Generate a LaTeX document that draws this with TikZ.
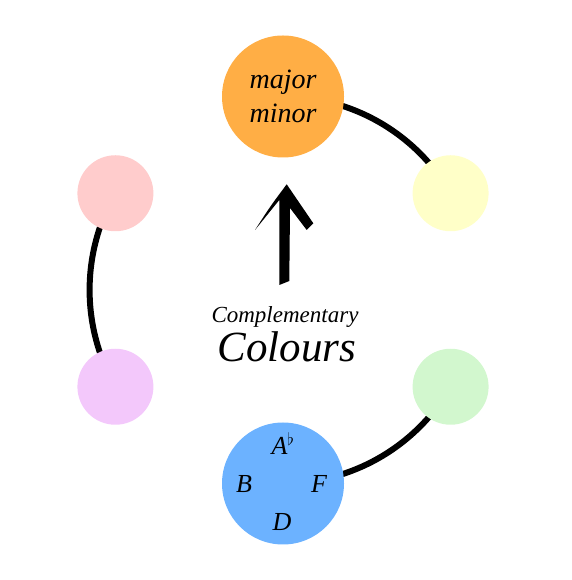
\documentclass[tikz,border=0pt]{standalone}
\usepackage{fontspec}
\setmainfont{Liberation Serif}
\usepackage{tikz}
\usetikzlibrary{backgrounds}
\definecolor{keyorange}{HTML}{FFAE45}
\definecolor{keyyellow}{HTML}{FFFFC8}
\definecolor{keygreen}{HTML}{D2F7CE}
\definecolor{keyblue}{HTML}{6CB2FF}
\definecolor{keypink}{HTML}{FFCCCC}
\definecolor{keyviolet}{HTML}{F3C8FB}

\begin{document}
\begin{tikzpicture}[x=1pt,y=1pt,
  big/.style={circle,minimum size=122pt,inner sep=0pt},
  small/.style={circle,minimum size=76pt,inner sep=0pt},
  link/.style={line width=6pt,bend left=30,looseness=0.912},
  note/.style={anchor=base,font=\fontsize{26}{30}\selectfont\itshape}]
\useasboundingbox (0,0) rectangle (571,580);
% six keys round the wheel
\node[big,fill=keyorange,align=center,font=\fontsize{28}{33.7}\selectfont\itshape]
     (maj) at (283,483.5) {major\\minor};
\node[small,fill=keyyellow] (yel) at (450.6,386.75) {};
\node[small,fill=keygreen] (grn) at (450.6,193.25) {};
\node[big,fill=keyblue] (blu) at (283,96.5) {};
\node[small,fill=keyviolet] (vio) at (115.4,193.25) {};
\node[small,fill=keypink] (pnk) at (115.4,386.75) {};
\begin{scope}[on background layer]
\draw[link] (maj.center) to (yel.center);
\draw[link] (vio.center) to (pnk.center);
\draw[link] (grn.center) to (blu.center);
\end{scope}
% notes in the blue key
\node[note] (na) at (283,125.7) {A$^{\flat}$};
\node[note] (nb) at (244,87) {B};
\node[note] (nf) at (319,87) {F};
\node[note] (nd) at (282,49.3) {D};
% arrow
\fill (279.3,295) -- (289.3,299) -- (290,372) -- (306.7,350)
   -- (313.3,356.7) -- (286.7,395.7) .. controls (270.5,374) .. (255,350)
   .. controls (268,365) .. (279.3,380) -- cycle;
\node[anchor=base,font=\fontsize{23}{27}\selectfont\itshape]
     (cmp) at (285,257.7) {Complementary};
\node[anchor=base,font=\fontsize{43}{49}\selectfont\itshape]
     (col) at (287,218.3) {Colours};
\end{tikzpicture}
\end{document}
